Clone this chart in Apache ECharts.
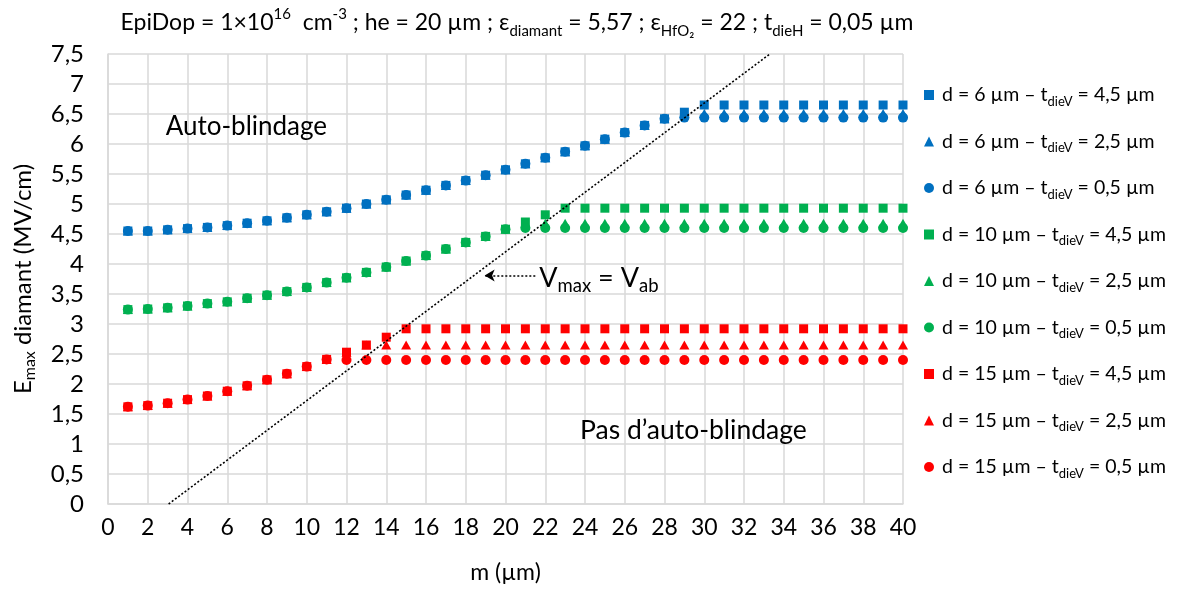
<!DOCTYPE html>
<html>
<head>
<meta charset="utf-8">
<script src="https://cdn.jsdelivr.net/npm/echarts@6/dist/echarts.min.js"></script>
<style>
html,body{margin:0;padding:0;background:#fff;}
#c{width:1196px;height:589px;}
</style>
</head>
<body>
<div id="c"></div>
<script>
// ---- data ----
const m = [1,2,3,4,5,6,7,8,9,10,11,12,13,14,15,16,17,18,19,20,21,22,23,24,25,26,27,28,29,30,31,32,33,34,35,36,37,38,39,40];

const blueSq  = [4.55,4.55,4.57,4.59,4.61,4.64,4.68,4.72,4.77,4.82,4.87,4.93,5.00,5.07,5.15,5.23,5.31,5.39,5.48,5.57,5.67,5.77,5.87,5.97,6.08,6.19,6.31,6.42,6.53,6.65,6.65,6.65,6.65,6.65,6.65,6.65,6.65,6.65,6.65,6.65];
const blueTri = [4.55,4.55,4.57,4.59,4.61,4.64,4.68,4.72,4.77,4.82,4.87,4.93,5.00,5.07,5.15,5.23,5.31,5.39,5.48,5.57,5.67,5.77,5.87,5.97,6.08,6.19,6.31,6.42,6.51,6.51,6.51,6.51,6.51,6.51,6.51,6.51,6.51,6.51,6.51,6.51];
const blueCir = [4.55,4.55,4.57,4.59,4.61,4.64,4.68,4.72,4.77,4.82,4.87,4.93,5.00,5.07,5.15,5.23,5.31,5.39,5.48,5.57,5.67,5.77,5.87,5.97,6.08,6.19,6.31,6.42,6.44,6.44,6.44,6.44,6.44,6.44,6.44,6.44,6.44,6.44,6.44,6.44];

const greenSq  = [3.24,3.25,3.27,3.30,3.34,3.37,3.43,3.48,3.54,3.61,3.69,3.77,3.86,3.95,4.05,4.14,4.25,4.36,4.46,4.58,4.70,4.82,4.93,4.93,4.93,4.93,4.93,4.93,4.93,4.93,4.93,4.93,4.93,4.93,4.93,4.93,4.93,4.93,4.93,4.93];
const greenTri = [3.24,3.25,3.27,3.30,3.34,3.37,3.43,3.48,3.54,3.61,3.69,3.77,3.86,3.95,4.05,4.14,4.25,4.36,4.46,4.58,4.68,4.68,4.68,4.68,4.68,4.68,4.68,4.68,4.68,4.68,4.68,4.68,4.68,4.68,4.68,4.68,4.68,4.68,4.68,4.68];
const greenCir = [3.24,3.25,3.27,3.30,3.34,3.37,3.43,3.48,3.54,3.61,3.69,3.77,3.86,3.95,4.05,4.14,4.25,4.36,4.46,4.58,4.60,4.60,4.60,4.60,4.60,4.60,4.60,4.60,4.60,4.60,4.60,4.60,4.60,4.60,4.60,4.60,4.60,4.60,4.60,4.60];

const redSq  = [1.62,1.64,1.68,1.74,1.80,1.88,1.97,2.07,2.17,2.29,2.41,2.53,2.65,2.78,2.92,2.92,2.92,2.92,2.92,2.92,2.92,2.92,2.92,2.92,2.92,2.92,2.92,2.92,2.92,2.92,2.92,2.92,2.92,2.92,2.92,2.92,2.92,2.92,2.92,2.92];
const redTri = [1.62,1.64,1.68,1.74,1.80,1.88,1.97,2.07,2.17,2.29,2.41,2.53,2.65,2.65,2.65,2.65,2.65,2.65,2.65,2.65,2.65,2.65,2.65,2.65,2.65,2.65,2.65,2.65,2.65,2.65,2.65,2.65,2.65,2.65,2.65,2.65,2.65,2.65,2.65,2.65];
const redCir = [1.62,1.64,1.68,1.74,1.80,1.88,1.97,2.07,2.17,2.29,2.41,2.40,2.40,2.40,2.40,2.40,2.40,2.40,2.40,2.40,2.40,2.40,2.40,2.40,2.40,2.40,2.40,2.40,2.40,2.40,2.40,2.40,2.40,2.40,2.40,2.40,2.40,2.40,2.40,2.40];

// Vmax = Vab reference line end points (m, E)
const vabLineM = [3.05, 33.3];
const vabLineE = [0, 7.5];

const seriesNames = [
  'd = 6 µm – t{sub|dieV} = 4,5 µm',
  'd = 6 µm – t{sub|dieV} = 2,5 µm',
  'd = 6 µm – t{sub|dieV} = 0,5 µm',
  'd = 10 µm – t{sub|dieV} = 4,5 µm',
  'd = 10 µm – t{sub|dieV} = 2,5 µm',
  'd = 10 µm – t{sub|dieV} = 0,5 µm',
  'd = 15 µm – t{sub|dieV} = 4,5 µm',
  'd = 15 µm – t{sub|dieV} = 2,5 µm',
  'd = 15 µm – t{sub|dieV} = 0,5 µm'
];
const seriesValues = [blueSq, blueTri, blueCir, greenSq, greenTri, greenCir, redSq, redTri, redCir];
const yTickLabels = ['0','0,5','1','1,5','2','2,5','3','3,5','4','4,5','5','5,5','6','6,5','7','7,5'];

// ---- styles ----
const FONT = "Lato, 'Open Sans', sans-serif";
const colors = ['#0070C0','#0070C0','#0070C0','#00B050','#00B050','#00B050','#FF0000','#FF0000','#FF0000'];
const symbols = ['rect','triangle','circle','rect','triangle','circle','rect','triangle','circle'];
const sizes = [9,10,10,9,10,10,9,10,10];

const chart = echarts.init(document.getElementById('c'), null, {renderer:'canvas'});

const series = seriesValues.map((vals, i) => ({
  name: seriesNames[i],
  type: 'scatter',
  symbol: symbols[i],
  symbolSize: symbols[i] === 'triangle' ? [10, 9] : sizes[i],
  itemStyle: {color: colors[i], opacity: 1},
  data: m.map((x, k) => [x, vals[k]]),
  z: 3
}));

series.push({
  name: 'Vab',
  type: 'line',
  data: vabLineM.map((x, k) => [x, vabLineE[k]]),
  symbol: 'none',
  lineStyle: {color: '#000', type: [2, 2], width: 1.6},
  z: 4,
  silent: true,
  markLine: {
    silent: true,
    symbol: ['none', 'arrow'],
    symbolSize: [9, 10],
    lineStyle: {color: '#000', type: [2, 2], width: 1.6},
    label: {show: false},
    data: [[{coord: [21.5, 3.81]}, {coord: [18.95, 3.81]}]]
  }
});

const gridLine = {show: true, lineStyle: {color: '#D9D9D9', width: 1.5}};

chart.setOption({
  animation: false,
  backgroundColor: '#fff',
  textStyle: {fontFamily: FONT},
  title: {
    text: 'EpiDop = 1×10{sup|16}  cm{sup|-3} ; he = 20 µm ; ε{sub|diamant} = 5,57 ; ε{sub|HfO₂} = 22 ; t{sub|dieH} = 0,05 µm',
    left: 512, top: 2, textAlign: 'center',
    textStyle: {
      fontFamily: FONT, fontSize: 23, fontWeight: 'normal', color: '#000', lineHeight: 32,
      rich: {
        sup: {fontFamily: FONT, fontSize: 15, color: '#000', verticalAlign: 'top', lineHeight: 22},
        sub: {fontFamily: FONT, fontSize: 15, color: '#000', verticalAlign: 'bottom', lineHeight: 24}
      }
    }
  },
  legend: {
    orient: 'vertical',
    left: 919, top: 77,
    itemWidth: 10, itemHeight: 10, itemGap: 20.5,
    data: seriesNames,
    selectedMode: false,
    textStyle: {
      fontFamily: FONT, fontSize: 19.5, color: '#000', lineHeight: 26, padding: [0,0,0,3],
      rich: {sub: {fontFamily: FONT, fontSize: 13, color: '#000', verticalAlign: 'bottom', lineHeight: 19}}
    }
  },
  grid: {left: 104, top: 54, right: 293, bottom: 82, containLabel: false},
  xAxis: {
    type: 'value', min: 0, max: 40, interval: 2,
    name: 'm (µm)', nameLocation: 'middle', nameGap: 57,
    nameTextStyle: {fontFamily: FONT, fontSize: 23, color: '#000'},
    axisLine: {show: true, lineStyle: {color: '#D9D9D9', width: 1.5}},
    axisTick: {show: false},
    axisLabel: {fontFamily: FONT, fontSize: 23, color: '#000', margin: 12},
    splitLine: gridLine
  },
  yAxis: {
    type: 'value', min: 0, max: 7.5, interval: 0.5,
    name: 'E{sub|max} diamant (MV/cm)', nameLocation: 'middle', nameGap: 70, nameRotate: 90,
    nameTextStyle: {
      fontFamily: FONT, fontSize: 24, color: '#000', lineHeight: 30,
      rich: {sub: {fontFamily: FONT, fontSize: 16, color: '#000', verticalAlign: 'bottom', lineHeight: 22}}
    },
    axisLine: {show: true, lineStyle: {color: '#D9D9D9', width: 1.5}},
    axisTick: {show: false},
    axisLabel: {
      fontFamily: FONT, fontSize: 24, color: '#000', margin: 24,
      formatter: (v) => yTickLabels[Math.round(v * 2)]
    },
    splitLine: gridLine
  },
  series: series
});

// annotations anchored at data coordinates
function px(x, y) { return chart.convertToPixel({gridIndex: 0}, [x, y]); }
const pA = px(2.9, 6.29), pB = px(23.75, 1.22), pC = px(21.7, 3.76);
chart.setOption({
  graphic: [
    {type: 'text', x: pA[0], y: pA[1], z: 10, style: {text: 'Auto-blindage', fontFamily: FONT, fontSize: 26, fill: '#000', verticalAlign: 'middle'}},
    {type: 'text', x: pB[0], y: pB[1], z: 10, style: {text: 'Pas d’auto-blindage', fontFamily: FONT, fontSize: 26.5, fill: '#000', verticalAlign: 'middle'}},
    {type: 'text', x: pC[0], y: pC[1], z: 10, style: {
      text: 'V{sub|max} = V{sub|ab}', fontFamily: FONT, fontSize: 27, fill: '#000', verticalAlign: 'middle', lineHeight: 34,
      rich: {sub: {fontFamily: FONT, fontSize: 18.5, fill: '#000', verticalAlign: 'bottom', lineHeight: 24}}
    }}
  ]
});
</script>
</body>
</html>
